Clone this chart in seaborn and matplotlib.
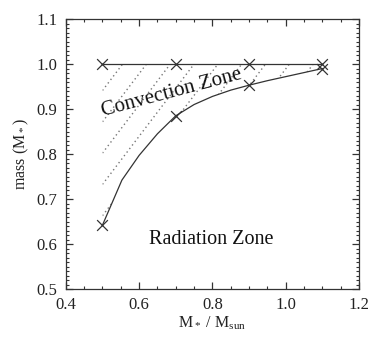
import matplotlib
matplotlib.use("Agg")
import matplotlib.pyplot as plt
import seaborn as sns
import numpy as np
import pandas as pd
from matplotlib.ticker import MultipleLocator

sns.set_theme(style="ticks")
plt.rcParams["font.family"] = ["Liberation Serif", "DejaVu Serif"]
plt.rcParams["mathtext.fontset"] = "custom"
plt.rcParams["mathtext.rm"] = "Liberation Serif"
plt.rcParams["mathtext.it"] = "Liberation Serif"
plt.rcParams["mathtext.default"] = "rm"

# stellar models
star_mass = [0.5, 0.7, 0.9, 1.1]
surface = [1.0, 1.0, 1.0, 1.0]
cz_base = [0.642, 0.885, 0.953, 0.990]

# base of the convection zone
curve_x = [0.5, 0.553, 0.6, 0.65, 0.7, 0.75, 0.8, 0.85, 0.9, 0.95, 1.0, 1.05, 1.1]
curve_y = [0.642, 0.742, 0.797, 0.845, 0.885, 0.910, 0.928, 0.942, 0.953, 0.963, 0.972, 0.981, 0.990]

# where the dotted hatching meets the surface line
hatch_x_top = [0.425, 0.49, 0.555, 0.62, 0.685, 0.75, 0.815, 0.88, 0.945, 1.01, 1.075]
hatch_slope = 1.07

models = pd.DataFrame({"M": star_mass * 2,
                       "mass": surface + cz_base,
                       "line": ["top"] * 4 + ["base"] * 4})
curve = pd.DataFrame({"M": curve_x, "mass": curve_y})

fig, ax = plt.subplots(figsize=(3.74, 3.4), dpi=100)
fig.subplots_adjust(left=0.176, right=0.96, bottom=0.15, top=0.944)

ink = "#333333"

# convection zone region used as clip for the dotted hatching
zone = ax.fill_between(curve_x, curve_y, [1.0] * len(curve_x),
                       facecolor="none", edgecolor="none")
zone_path = zone.get_paths()[0]
hx = np.array([0.5, 1.1])
for xt in hatch_x_top:
    ln, = ax.plot(hx, 1.0 + hatch_slope * (hx - xt), color="#777777",
                  lw=1.0, ls=(0, (1, 2.2)))
    ln.set_clip_path(zone_path, ax.transData)

ax.plot(star_mass, surface, color=ink, lw=0.9)
sns.lineplot(data=curve, x="M", y="mass", ax=ax, color=ink, lw=0.9,
             sort=False, estimator=None)
sns.scatterplot(data=models, x="M", y="mass", ax=ax, marker="x",
                color=ink, s=60, linewidth=0.9, legend=False, zorder=5)

ax.text(0.69, 0.936, "Convection Zone", rotation=15, ha="center",
        va="center", fontsize=15, color="#111111")
ax.text(0.796, 0.611, "Radiation Zone", ha="center", va="center",
        fontsize=14.5, color="#111111")

ax.set_xlim(0.4, 1.2)
ax.set_ylim(0.5, 1.1)
ax.xaxis.set_major_locator(MultipleLocator(0.2))
ax.xaxis.set_minor_locator(MultipleLocator(0.05))
ax.yaxis.set_major_locator(MultipleLocator(0.1))
ax.yaxis.set_minor_locator(MultipleLocator(0.01))
ax.xaxis.set_major_formatter(matplotlib.ticker.FormatStrFormatter("%.1f"))
ax.yaxis.set_major_formatter(matplotlib.ticker.FormatStrFormatter("%.1f"))
ax.tick_params(which="both", direction="in", top=True, right=True,
               color=ink, labelsize=12, labelcolor="#222222")
ax.tick_params(which="major", length=5, width=0.9, pad=6)
ax.tick_params(which="minor", length=2.5, width=0.8)
for s in ax.spines.values():
    s.set_color(ink)
    s.set_linewidth(0.9)

ax.set_xlabel(r"M$_*$ / M$_{\rm sun}$", fontsize=11.5, labelpad=1, color="#222222")
ax.set_ylabel(r"mass (M$_*$)", fontsize=11.5, labelpad=4, color="#222222")

fig.savefig("out.png", dpi=100, facecolor="white")
